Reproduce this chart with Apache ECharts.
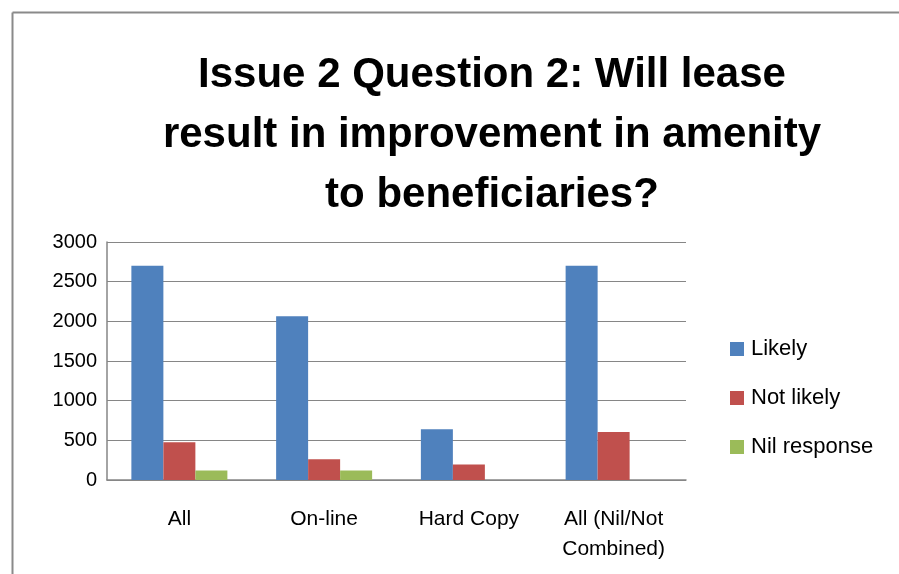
<!DOCTYPE html>
<html><head><meta charset="utf-8">
<script src="https://cdn.jsdelivr.net/npm/echarts@6/dist/echarts.min.js"></script>
<style>html,body{margin:0;padding:0;background:#fff}#c{width:899px;height:574px}</style>
</head><body><div id="c"></div>
<script>
const categories = ['All', 'On-line', 'Hard Copy', 'All (Nil/Not\nCombined)'];
const likely = [2700, 2065, 640, 2700];
const notLikely = [475, 260, 195, 605];
const nilResponse = [120, 120, 0, 0];
const yTicks = [0, 500, 1000, 1500, 2000, 2500, 3000];
const titleText = 'Issue 2 Question 2: Will lease\nresult in improvement in amenity\nto beneficiaries?';

const font = '"Liberation Sans", Arial, sans-serif';
const chart = echarts.init(document.getElementById('c'), null, {renderer: 'canvas'});
chart.setOption({
  animation: false,
  backgroundColor: '#fff',
  graphic: [
    {type: 'line', shape: {x1: 12.5, y1: 12.5, x2: 899, y2: 12.5}, style: {stroke: '#8a8a8a', lineWidth: 2}},
    {type: 'line', shape: {x1: 12.5, y1: 12.5, x2: 12.5, y2: 574}, style: {stroke: '#8a8a8a', lineWidth: 2}}
  ],
  title: {
    text: titleText,
    left: 487, top: 40, textAlign: 'center',
    textStyle: {fontFamily: font, fontWeight: 'bold', fontSize: 42, lineHeight: 60, color: '#000'}
  },
  legend: {
    orient: 'vertical', left: 725, top: 333, itemGap: 27,
    itemWidth: 14, itemHeight: 14, icon: 'rect',
    textStyle: {fontFamily: font, fontSize: 22, color: '#000', padding: [0, 0, 0, 2]},
    data: ['Likely', 'Not likely', 'Nil response']
  },
  grid: {left: 107, right: 213, top: 242, bottom: 94, containLabel: false},
  xAxis: {
    type: 'category', data: categories,
    axisLine: {lineStyle: {color: '#868686', width: 1.5}},
    axisTick: {show: false},
    axisLabel: {fontFamily: font, fontSize: 21, color: '#000', margin: 24, lineHeight: 30, interval: 0}
  },
  yAxis: {
    type: 'value', min: 0, max: 3000, interval: 500,
    axisLine: {show: true, lineStyle: {color: '#868686', width: 1.5}},
    axisTick: {show: false},
    splitLine: {lineStyle: {color: '#868686', width: 1.2}},
    axisLabel: {fontFamily: font, fontSize: 20, color: '#000', margin: 10,
      formatter: v => yTicks.includes(v) ? String(v) : ''}
  },
  series: [
    {name: 'Likely', type: 'bar', data: likely, barWidth: 32, barGap: '0%', itemStyle: {color: '#4f81bd'}},
    {name: 'Not likely', type: 'bar', data: notLikely, barWidth: 32, itemStyle: {color: '#c0504d'}},
    {name: 'Nil response', type: 'bar', data: nilResponse, barWidth: 32, itemStyle: {color: '#9bbb59'}}
  ]
});
</script></body></html>
